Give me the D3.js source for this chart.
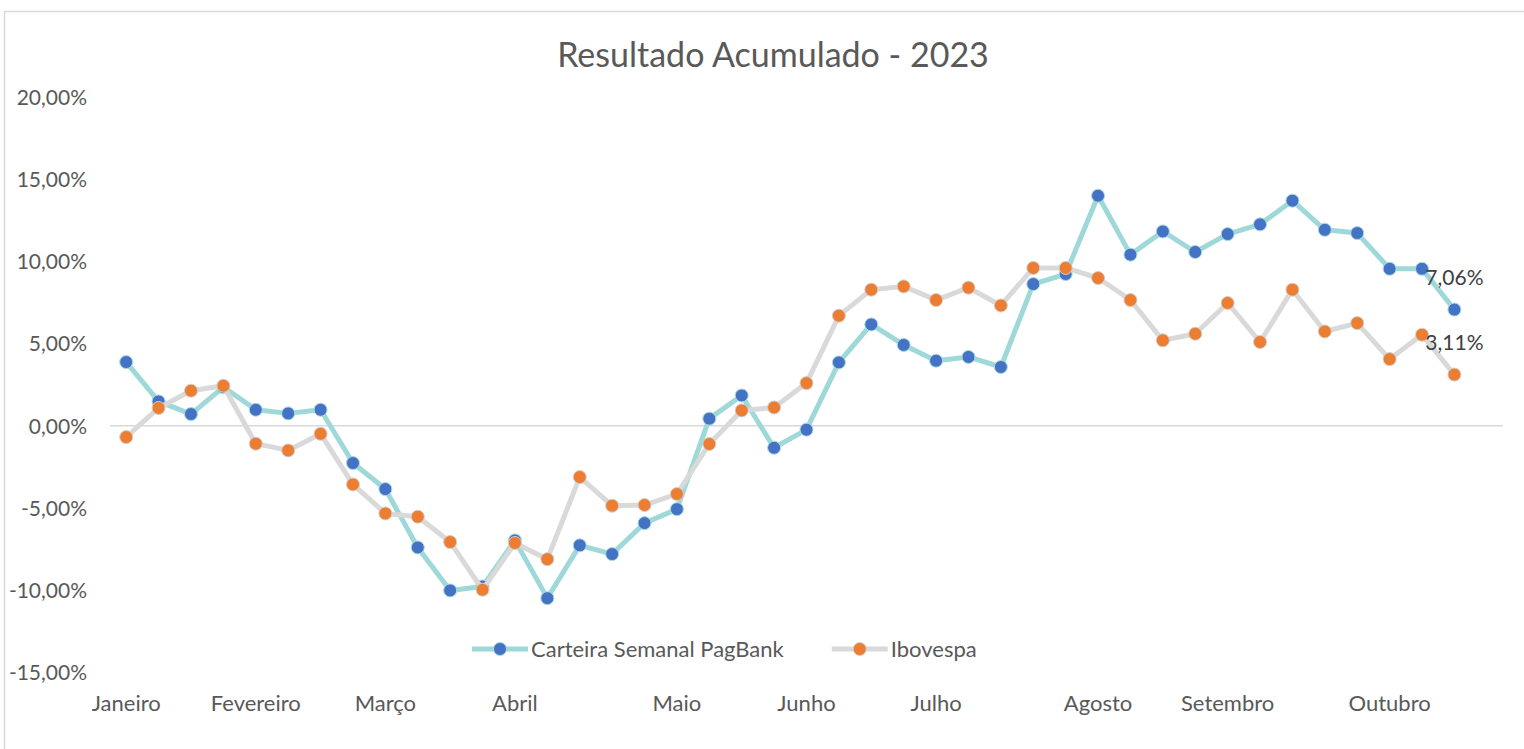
<!DOCTYPE html>
<html>
<head>
<meta charset="utf-8">
<script src="https://cdn.jsdelivr.net/npm/d3@7"></script>
<style>
  body { margin: 0; background: #fff; }
  svg text { font-family: Lato, "Open Sans", sans-serif; fill: #595959; }
</style>
</head>
<body>
<div id="chart"></div>
<script>
// weekly slots, month name on the first week of each month (43 slots, last one empty)
var weekLabels = ["Janeiro", "", "", "", "Fevereiro", "", "", "", "Março", "", "", "", "Abril", "", "", "", "", "Maio", "", "", "", "Junho", "", "", "", "Julho", "", "", "", "", "Agosto", "", "", "", "Setembro", "", "", "", "", "Outubro", "", "", ""];

var carteira = [3.87, 1.48, 0.71, 2.35, 0.97, 0.75, 0.97, -2.27, -3.85, -7.40, -10.01, -9.77, -6.97, -10.48, -7.27, -7.80, -5.92, -5.07, 0.43, 1.84, -1.34, -0.24, 3.85, 6.16, 4.91, 3.95, 4.18, 3.57, 8.61, 9.22, 13.98, 10.40, 11.81, 10.56, 11.65, 12.24, 13.68, 11.91, 11.71, 9.54, 9.54, 7.06];
var ibovespa = [-0.69, 1.08, 2.13, 2.43, -1.09, -1.50, -0.49, -3.57, -5.33, -5.53, -7.07, -9.97, -7.13, -8.11, -3.12, -4.86, -4.82, -4.15, -1.11, 0.93, 1.11, 2.59, 6.69, 8.27, 8.47, 7.64, 8.39, 7.31, 9.59, 9.59, 8.98, 7.64, 5.19, 5.59, 7.46, 5.09, 8.27, 5.73, 6.24, 4.05, 5.53, 3.11];

var yTicks = [-15, -10, -5, 0, 5, 10, 15, 20];
var seriesNames = ["Carteira Semanal PagBank", "Ibovespa"];

var width = 1524, height = 749;
var pctFmt = function(v) { return d3.format(".2f")(v).replace("−", "-").replace(".", ",") + "%"; };

var svg = d3.select('#chart').append('svg').attr('width', width).attr('height', height);

// chart border
svg.append('rect')
  .attr('x', 4.5).attr('y', 11.5).attr('width', width + 20).attr('height', height + 20)
  .attr('fill', 'none').attr('stroke', '#d9d9d9').attr('stroke-width', 1.5);

var x = d3.scaleBand().domain(d3.range(weekLabels.length)).range([110, 1503]);
var y = d3.scaleLinear().domain([-15, 20]).range([672.5, 96.7]);
var cx = function(i) { return x(i) + x.bandwidth() / 2; };

svg.append('text')
  .attr('x', 773).attr('y', 67)
  .attr('text-anchor', 'middle')
  .style('font-size', '34px')
  .text('Resultado Acumulado - 2023');

// y axis labels
var yAxis = d3.axisLeft(y).tickValues(yTicks).tickFormat(pctFmt).tickSize(0).tickPadding(0);
var gy = svg.append('g').attr('transform', 'translate(87,0)').call(yAxis);
gy.select('.domain').remove();
gy.selectAll('text').style('font-size', '21px').attr('fill', '#595959').attr('dy', '0.35em');

// zero line
svg.append('line')
  .attr('x1', 110).attr('x2', 1503)
  .attr('y1', y(0)).attr('y2', y(0))
  .attr('stroke', '#d9d9d9').attr('stroke-width', 1.5);

// month labels along the bottom
var xAxis = d3.axisBottom(x)
  .tickValues(d3.range(weekLabels.length).filter(function(i) { return weekLabels[i] != ""; }))
  .tickFormat(function(i) { return weekLabels[i]; })
  .tickSize(0).tickPadding(0);
var gx = svg.append('g').attr('transform', 'translate(0,703)').call(xAxis);
gx.select('.domain').remove();
gx.selectAll('text').style('font-size', '22px').attr('fill', '#595959').attr('dy', '0.35em');

var styles = [
  { line: '#9ed8d8', marker: '#4472c4', edge: '#a9dcdc' },
  { line: '#d9d9d9', marker: '#ed7d31', edge: '#cfcfcf' }
];

var line = d3.line()
  .x(function(d, i) { return cx(i); })
  .y(function(d) { return y(d); });

[carteira, ibovespa].forEach(function(data, k) {
  svg.append('path')
    .datum(data)
    .attr('d', line)
    .attr('fill', 'none')
    .attr('stroke', styles[k].line)
    .attr('stroke-width', 5)
    .attr('stroke-linejoin', 'round');
  svg.append('g').selectAll('circle')
    .data(data)
    .enter()
    .append('circle')
    .attr('cx', function(d, i) { return cx(i); })
    .attr('cy', function(d) { return y(d); })
    .attr('r', 6.5)
    .attr('fill', styles[k].marker)
    .attr('stroke', styles[k].edge)
    .attr('stroke-width', 1);
});

// last value labels
[carteira, ibovespa].forEach(function(data) {
  var last = data.length - 1;
  svg.append('text')
    .attr('x', cx(last)).attr('y', y(data[last]) - 32)
    .attr('dy', '0.35em')
    .attr('text-anchor', 'middle')
    .style('font-size', '21px')
    .style('fill', '#404040')
    .text(pctFmt(data[last]));
});

// legend
var lx = 472, ly = 649;
seriesNames.forEach(function(name, k) {
  var g = svg.append('g');
  g.append('line')
    .attr('x1', lx).attr('x2', lx + 56).attr('y1', ly).attr('y2', ly)
    .attr('stroke', styles[k].line).attr('stroke-width', 5);
  g.append('circle')
    .attr('cx', lx + 28).attr('cy', ly).attr('r', 6.5)
    .attr('fill', styles[k].marker).attr('stroke', styles[k].edge).attr('stroke-width', 1);
  var t = g.append('text')
    .attr('x', lx + 59).attr('y', ly).attr('dy', '0.35em')
    .style('font-size', '22px')
    .text(name);
  lx = lx + 59 + t.node().getComputedTextLength() + 48;
});
</script>
</body>
</html>
